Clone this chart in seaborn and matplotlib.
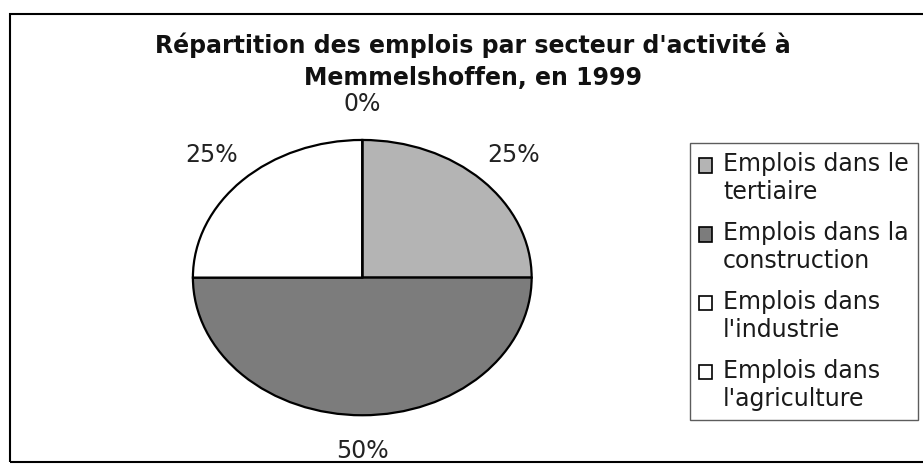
import matplotlib
matplotlib.use("Agg")
import matplotlib.pyplot as plt
import seaborn as sns
from matplotlib.patches import Rectangle

# ─── DATA ───────────────────────────────────────────────────────────────────
TITLE   = "Répartition des emplois par secteur d'activité à\nMemmelshoffen, en 1999"
SECTORS = ["Emplois dans le\ntertiaire",
           "Emplois dans la\nconstruction",
           "Emplois dans\nl'industrie",
           "Emplois dans\nl'agriculture"]
SHARES  = [25, 50, 25, 0]
COLORS  = ["#b4b4b4", "#7c7c7c", "#ffffff", "#ffffff"]
# ─────────────────────────────────────────────────────────────────────────────

sns.set_theme(style="white")
plt.rcParams["font.family"] = ["DejaVu Sans"]

fig = plt.figure(figsize=(9.23, 4.65), dpi=100)
fig.patch.set_facecolor("white")

# pie area (stretched ellipse like the scanned chart)
ax = fig.add_axes([0.209, 0.107, 0.367, 0.592])
wedges, texts, autotexts = ax.pie(
    SHARES, colors=COLORS, startangle=90, counterclock=False,
    autopct="%1.0f%%", pctdistance=1.26, labeldistance=None,
    wedgeprops=dict(edgecolor="black", linewidth=1.6),
    textprops=dict(fontsize=17, color="#222222"),
)
for t in autotexts:
    t.set_clip_on(False)
ax.set_aspect("auto")
ax.set_xlim(-1, 1)
ax.set_ylim(-1, 1)
ax.axis("off")

fig.text(0.512, 0.868, TITLE, ha="center", va="center", fontsize=17,
         fontweight="bold", linespacing=1.45, color="#111111")

leg = fig.legend(wedges, SECTORS, loc="upper left",
                 bbox_to_anchor=(690 / 923, 1 - 143 / 465),
                 frameon=True, fancybox=False, fontsize=17,
                 handlelength=0.55, handleheight=0.55, handletextpad=0.45,
                 labelspacing=0.72, borderpad=0.4, borderaxespad=0,
                 labelcolor="#1a1a1a")
leg.get_frame().set_edgecolor("#333333")
leg.get_frame().set_linewidth(1.0)
for h in leg.legend_handles:
    h.set_linewidth(1.2)
    # align the marker with the first line of its label
    h.set_y(h.get_y() + 10)

# outer chart frame
fig.patches.append(Rectangle((10 / 923, 3 / 465), 1.2, 1 - 17 / 465,
                             transform=fig.transFigure, fill=False,
                             edgecolor="black", linewidth=1.5))

fig.savefig("out.png", dpi=100)
